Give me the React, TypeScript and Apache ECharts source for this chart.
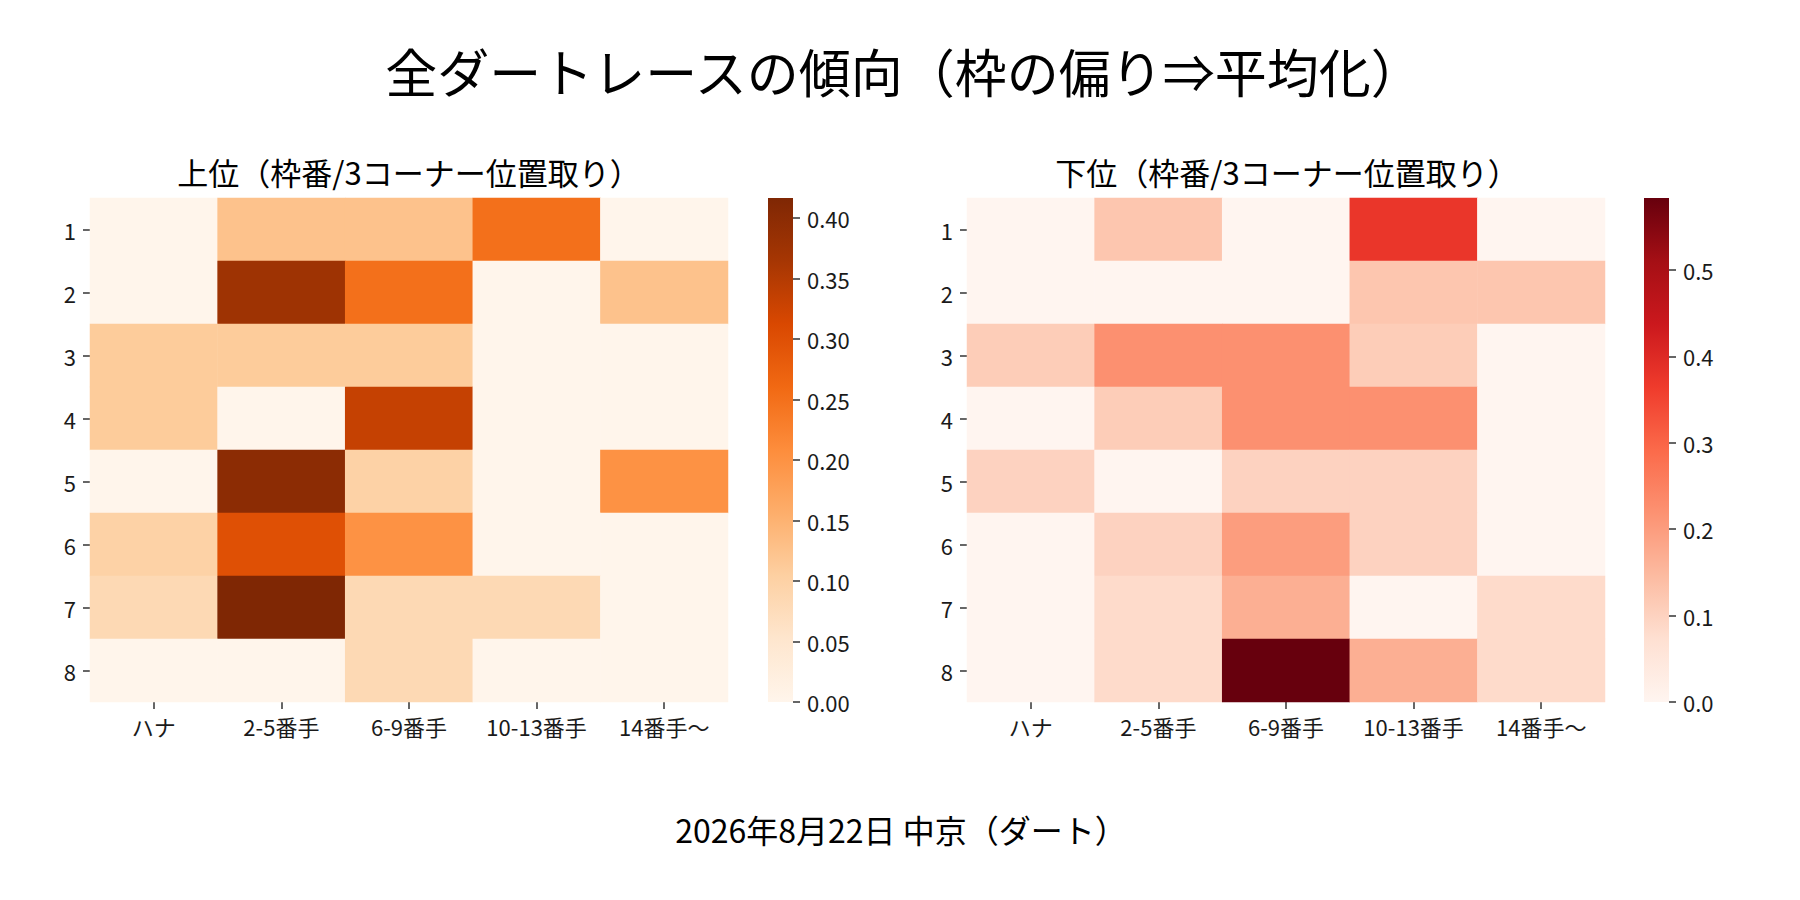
import { useEffect, useRef } from 'react';
import * as echarts from 'echarts';

const frames = ['1', '2', '3', '4', '5', '6', '7', '8'];
const positions = ['ハナ', '2-5番手', '6-9番手', '10-13番手', '14番手〜'];

// 上位: rows = 枠番 1..8, cols = 3コーナー位置取り
const upperRates = [
    [0, 0.125, 0.125, 0.25, 0],
    [0, 0.375, 0.25, 0, 0.125],
    [0.111, 0.111, 0.111, 0, 0],
    [0.111, 0, 0.333, 0, 0],
    [0, 0.4, 0.1, 0, 0.2],
    [0.1, 0.3, 0.2, 0, 0],
    [0.083, 0.4167, 0.083, 0.083, 0],
    [0, 0, 0.083, 0, 0],
];

// 下位
const lowerRates = [
    [0, 0.125, 0, 0.375, 0],
    [0, 0, 0, 0.125, 0.125],
    [0.111, 0.222, 0.222, 0.111, 0],
    [0, 0.111, 0.222, 0.222, 0],
    [0.1, 0, 0.1, 0.1, 0],
    [0, 0.1, 0.2, 0.1, 0],
    [0, 0.083, 0.167, 0, 0.083],
    [0, 0.083, 0.5833, 0.167, 0.083],
];

const upperMax = 0.4167;
const lowerMax = 0.5833;
const upperTicks = [0, 0.05, 0.1, 0.15, 0.2, 0.25, 0.3, 0.35, 0.4];
const lowerTicks = [0, 0.1, 0.2, 0.3, 0.4, 0.5];

const oranges = ['#fff5eb', '#fee6ce', '#fdd0a2', '#fdae6b', '#fd8d3c', '#f16913', '#d94801', '#a63603', '#7f2704'];
const reds = ['#fff5f0', '#fee0d2', '#fcbba1', '#fc9272', '#fb6a4a', '#ef3b2c', '#cb181d', '#a50f15', '#67000d'];

const FONT = '"Noto Sans CJK JP", "Noto Sans", sans-serif';

const toCells = (rows: number[][]) =>
    rows.flatMap((row, y) => row.map((v, x) => [x, y, v]));

const gradient = (colors: string[]) =>
    new echarts.graphic.LinearGradient(
        0, 1, 0, 0,
        colors.map((color, i) => ({ offset: i / (colors.length - 1), color }))
    );

const App = () => {
    const chartRef = useRef<HTMLDivElement | null>(null);

    useEffect(() => {
        document.body.style.margin = '0';
        if (!chartRef.current) return;
        const myChart = echarts.init(chartRef.current, null, { renderer: 'svg' });

        const heatGrids = [
            { left: 90, top: 198, width: 638, height: 504 },
            { left: 967, top: 198, width: 638, height: 504 },
        ];
        const barGrids = [
            { left: 768, top: 198, width: 25, height: 504 },
            { left: 1644, top: 198, width: 25, height: 504 },
        ];

        const tickStyle = { color: '#333', width: 1.5 };
        const labelStyle = { fontSize: 22, color: '#1a1a1a', fontFamily: FONT };

        const catX = (gridIndex: number) => ({
            type: 'category',
            gridIndex,
            data: positions,
            axisLine: { show: false },
            axisTick: { show: true, alignWithLabel: true, interval: 0, length: 7, lineStyle: tickStyle },
            axisLabel: { ...labelStyle, interval: 0, margin: 13 },
            splitArea: { show: false },
        });
        const catY = (gridIndex: number) => ({
            type: 'category',
            gridIndex,
            data: frames,
            inverse: true,
            axisLine: { show: false },
            axisTick: { show: true, alignWithLabel: true, interval: 0, length: 7, lineStyle: tickStyle },
            axisLabel: { ...labelStyle, interval: 0, margin: 14 },
            splitArea: { show: false },
        });
        const barY = (gridIndex: number, max: number, ticks: number[], digits: number) => ({
            type: 'value',
            gridIndex,
            min: 0,
            max,
            position: 'right',
            axisLine: { show: false, onZero: false },
            splitLine: { show: false },
            axisTick: { show: true, inside: false, length: 7, lineStyle: tickStyle, customValues: ticks },
            axisLabel: {
                ...labelStyle,
                inside: false,
                margin: 14,
                customValues: ticks,
                formatter: (v: number) => v.toFixed(digits),
            },
        });

        const text = (x: number, y: number, s: string, size: number) => ({
            type: 'text',
            x,
            y,
            style: {
                text: s,
                font: `${size}px ${FONT}`,
                fill: '#000',
                align: 'center',
                verticalAlign: 'middle',
            },
        });

        const option = {
            animation: false,
            grid: [...heatGrids, ...barGrids],
            xAxis: [
                catX(0),
                catX(1),
                { type: 'category', gridIndex: 2, data: [''], show: false },
                { type: 'category', gridIndex: 3, data: [''], show: false },
            ],
            yAxis: [
                catY(0),
                catY(1),
                barY(2, upperMax, upperTicks, 2),
                barY(3, lowerMax, lowerTicks, 1),
            ],
            visualMap: [
                {
                    type: 'continuous',
                    show: false,
                    seriesIndex: 0,
                    min: 0,
                    max: upperMax,
                    inRange: { color: oranges },
                },
                {
                    type: 'continuous',
                    show: false,
                    seriesIndex: 1,
                    min: 0,
                    max: lowerMax,
                    inRange: { color: reds },
                },
            ],
            series: [
                {
                    name: '上位',
                    type: 'heatmap',
                    xAxisIndex: 0,
                    yAxisIndex: 0,
                    data: toCells(upperRates),
                    emphasis: { disabled: true },
                },
                {
                    name: '下位',
                    type: 'heatmap',
                    xAxisIndex: 1,
                    yAxisIndex: 1,
                    data: toCells(lowerRates),
                    emphasis: { disabled: true },
                },
            ],
            graphic: [
                {
                    type: 'rect',
                    shape: { x: barGrids[0].left, y: barGrids[0].top, width: barGrids[0].width, height: barGrids[0].height },
                    style: { fill: gradient(oranges) },
                    z: -1,
                },
                {
                    type: 'rect',
                    shape: { x: barGrids[1].left, y: barGrids[1].top, width: barGrids[1].width, height: barGrids[1].height },
                    style: { fill: gradient(reds) },
                    z: -1,
                },
                text(904, 70, '全ダートレースの傾向（枠の偏り⇒平均化）', 52),
                text(409, 171, '上位（枠番/3コーナー位置取り）', 31),
                text(1287, 171, '下位（枠番/3コーナー位置取り）', 31),
                text(901, 829, '2026年8月22日 中京（ダート）', 32),
            ],
        };

        myChart.setOption(option);

        return () => {
            myChart.dispose();
        };
    }, []);

    return <div ref={chartRef} style={{ width: '1800px', height: '900px' }} />;
};

export default App;
